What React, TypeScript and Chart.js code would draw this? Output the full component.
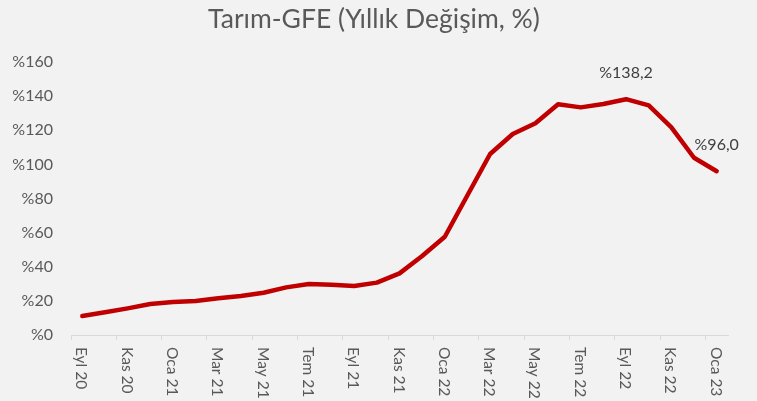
import React, { useEffect, useRef } from "react";
import { Chart, registerables } from "chart.js";
Chart.register(...registerables);

const months = [
  "Eyl 20", "Eki 20", "Kas 20", "Ara 20",
  "Oca 21", "Şub 21", "Mar 21", "Nis 21", "May 21", "Haz 21", "Tem 21", "Ağu 21", "Eyl 21", "Eki 21", "Kas 21", "Ara 21",
  "Oca 22", "Şub 22", "Mar 22", "Nis 22", "May 22", "Haz 22", "Tem 22", "Ağu 22", "Eyl 22", "Eki 22", "Kas 22", "Ara 22",
  "Oca 23",
];
const values = [
  11.1, 13.3, 15.6, 18.2, 19.3, 19.9, 21.5, 22.9, 24.8, 27.9, 29.9, 29.5, 28.7, 30.7, 36.1, 46.3,
  57.6, 81.9, 106.1, 117.8, 124.1, 135.2, 133.4, 135.4, 138.2, 134.6, 121.7, 103.9, 96.0,
];
const yMin = 0;
const yMax = 160;
const yStep = 20;
const annotated = [24, 28];
const titleText = "Tarım-GFE (Yıllık Değişim, %)";

const FONT = "Lato, 'Open Sans', sans-serif";

export default function App() {
  const ref = useRef<HTMLCanvasElement>(null);
  useEffect(() => {
    document.body.style.margin = "0";
    document.body.style.background = "#F2F2F2";
    const canvas = ref.current!;
    const customText = {
      id: "customText",
      afterDraw(chart: any) {
        const c = chart.ctx;
        const xs = chart.scales.x;
        c.save();
        // title
        c.font = `26.5px ${FONT}`;
        c.fillStyle = "#595959";
        c.textAlign = "center";
        c.textBaseline = "middle";
        c.fillText(titleText, 374, 19);
        // x labels
        c.font = `15.5px ${FONT}`;
        c.textAlign = "left";
        months.forEach((m, i) => {
          if (i % 2) return;
          const x = xs.getPixelForValue(i);
          c.save();
          c.translate(x - 1, xs.top + 12);
          c.rotate(Math.PI / 2);
          c.fillText(m, 0, 0);
          c.restore();
        });
        const meta = chart.getDatasetMeta(0);
        c.fillStyle = "#404040";
        c.textAlign = "center";
        c.font = `16px ${FONT}`;
        annotated.forEach((i) => {
          const p = meta.data[i];
          c.fillText("%" + values[i].toFixed(1).replace(".", ","), p.x, p.y - 26);
        });
        c.restore();
      },
    };
    const chart = new Chart(canvas, {
      type: "line",
      data: {
        labels: months,
        datasets: [
          {
            data: values,
            borderColor: "#C00000",
            backgroundColor: "#C00000",
            borderWidth: 4.5,
            pointRadius: 0,
            tension: 0,
            borderCapStyle: "round",
            borderJoinStyle: "round",
          },
        ],
      },
      options: {
        responsive: false,
        animation: false,
        layout: { padding: { left: 0, right: 29, top: 62, bottom: 0 } },
        plugins: {
          legend: { display: false },
          tooltip: { enabled: false },
          title: { display: false },
        },
        scales: {
          x: {
            type: "category",
            offset: true,
            grid: {
              offset: true,
              drawOnChartArea: false,
              drawTicks: true,
              tickLength: 5,
              color: (ctx: any) =>
                ctx.index !== undefined && ctx.index % 2 === 0 ? "#D9D9D9" : "rgba(0,0,0,0)",
            },
            border: { display: true, color: "#D9D9D9", width: 1 },
            ticks: { display: false },
            afterFit: (s: any) => {
              s.height = 66;
            },
          },
          y: {
            min: yMin,
            max: yMax,
            ticks: {
              stepSize: yStep,
              padding: 18,
              color: "#595959",
              font: { size: 16, family: FONT },
              callback: (v: any) => "%" + v,
            },
            grid: { display: false, drawTicks: false },
            border: { display: false },
            afterFit: (s: any) => {
              s.width = 71;
            },
          },
        },
      },
      plugins: [customText],
    });
    return () => chart.destroy();
  }, []);
  return (
    <div style={{ width: 757, height: 401, background: "#F2F2F2" }}>
      <canvas ref={ref} width={757} height={401} style={{ display: "block" }} />
    </div>
  );
}
